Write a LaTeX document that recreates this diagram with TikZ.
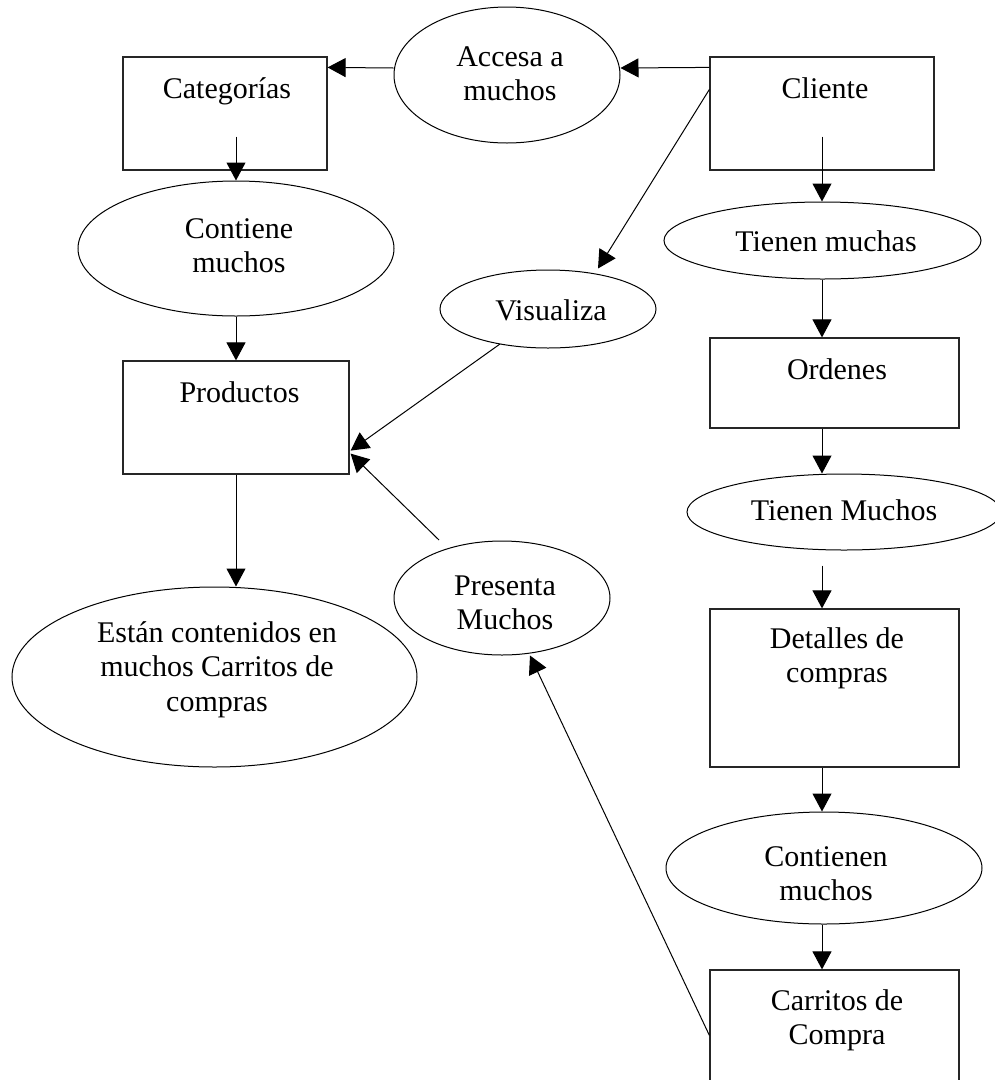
\documentclass[tikz,border=0pt]{standalone}
\usepackage{fontspec}
\setmainfont{Liberation Serif}
\usetikzlibrary{shapes.geometric,arrows.meta,calc}
\begin{document}
\begin{tikzpicture}[x=1pt,y=-1pt,
  entity/.style={draw=black!85, line width=1.2pt, rectangle, inner sep=0pt},
  relation/.style={draw=black, line width=1pt, ellipse, inner sep=0pt},
  lbl/.style={text width=330pt, align=flush center, anchor=base, inner sep=0pt,
              font=\fontsize{30}{34.5}\selectfont},
  link/.style={line width=1pt, -{Triangle[length=18pt,width=19pt]}}]

\useasboundingbox (0,0) rectangle (995,1080);
\fill[white] (0,0) rectangle (995,1080);
\clip (0,0) rectangle (995,1080);

% entities
\node[entity, minimum width=204pt, minimum height=113pt] (cat)  at (225,113.5) {};
\node[entity, minimum width=224pt, minimum height=113pt] (cli)  at (822,113.5) {};
\node[entity, minimum width=226pt, minimum height=113pt] (prod) at (236,417.5) {};
\node[entity, minimum width=249pt, minimum height=90pt]  (ord)  at (834.5,383) {};
\node[entity, minimum width=249pt, minimum height=158pt] (det)  at (834.5,688) {};
\node[entity, minimum width=249pt, minimum height=160pt] (car)  at (834.5,1050) {};

% relationships
\node[relation, minimum width=226pt, minimum height=136pt] (acc)   at (507,75) {};
\node[relation, minimum width=316pt, minimum height=135pt] (cont)  at (236,248.5) {};
\node[relation, minimum width=216pt, minimum height=78pt]  (vis)   at (548,309) {};
\node[relation, minimum width=317pt, minimum height=77pt]  (tm1)   at (822.5,240.5) {};
\node[relation, minimum width=314pt, minimum height=76pt]  (tm2)   at (844,512) {};
\node[relation, minimum width=216pt, minimum height=114pt] (pres)  at (502,598) {};
\node[relation, minimum width=405pt, minimum height=180pt] (est)   at (214.5,677) {};
\node[relation, minimum width=316pt, minimum height=112pt] (conts) at (824,868) {};

% labels
\node[lbl] (tcat)   at (227,98)   {Categorías};
\node[lbl] (tcli)   at (825,98)   {Cliente};
\node[lbl] (tprod)  at (239.5,402) {Productos};
\node[lbl] (tord)   at (837,379)  {Ordenes};
\node[lbl] (tdet)   at (837,648)  {Detalles de\\compras};
\node[lbl] (tcar)   at (837,1010) {Carritos de\\Compra};
\node[lbl] (tacc)   at (510,66)   {Accesa a\\muchos};
\node[lbl] (tcont)  at (239,238)  {Contiene\\muchos};
\node[lbl] (tvis)   at (551,320)  {Visualiza};
\node[lbl] (ttm1)   at (826,251)  {Tienen muchas};
\node[lbl] (ttm2)   at (844,520)  {Tienen Muchos};
\node[lbl] (tpres)  at (505,595)  {Presenta\\Muchos};
\node[lbl] (test)   at (217,642)  {Están contenidos en\\muchos Carritos de\\compras};
\node[lbl] (tconts) at (826,866)  {Contienen\\muchos};

% connectors
\draw[link] ($(cli.north west)+(0,11)$) -- ($(acc.east)+(0,-7)$);
\draw[link] ($(acc.west)+(0,-7)$) -- ($(cat.north east)+(0,11)$);
\draw[link] ($(cat.south -| cont.north)+(0,-34)$) -- (cont.north);
\draw[link] (cont.south) -- (cont.south |- prod.north);
\draw[link] (prod.south) -- (prod.south |- est.north);
\draw[link] ($(cli.south)+(0,-34)$) -- (cli.south |- tm1.north);
\draw[link] (tm1.south -| cli.south) -- (cli.south |- ord.north);
\draw[link] (ord.south -| cli.south) -- (cli.south |- tm2.north);
\draw[link] ($(cli.south |- tm2.south)+(0,15)$) -- (cli.south |- det.north);
\draw[link] (cli.south |- det.south) -- (cli.south |- conts.north);
\draw[link] (cli.south |- conts.south) -- (cli.south |- car.north);
\draw[link] ($(cli.north west)+(0,33)$) -- ($(vis.north)+(50,-1)$);
\draw[link] ($(vis.center)+(-48,35)$) -- ($(prod.south east)+(1,-24)$);
\draw[link] ($(pres.center)+(-63,-58)$) -- ($(prod.south east)+(1,-21)$);
\draw[link] ($(car.north west)+(0,66)$) -- ($(pres.south)+(28,0)$);

\end{tikzpicture}
\end{document}
